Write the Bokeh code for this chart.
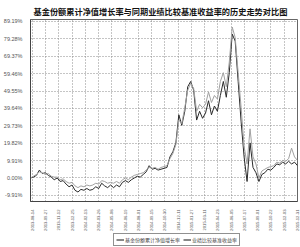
from bokeh.plotting import figure
from bokeh.layouts import column
from bokeh.models import (FixedTicker, PrintfTickFormatter, CustomJSTickFormatter,
                          Legend, LegendItem, Range1d)
from bokeh.embed import file_html
from bokeh.resources import INLINE

title = "基金份额累计净值增长率与同期业绩比较基准收益率的历史走势对比图"
fund_name = "基金份额累计净值增长率"
bench_name = "业绩比较基准收益率"

date_labels = ["2013-08-14", "2013-09-27", "2013-11-12", "2013-12-25", "2014-02-13",
               "2014-03-26", "2014-05-08", "2014-06-19", "2014-08-01", "2014-09-15",
               "2014-10-30", "2014-12-11", "2015-01-27", "2015-03-11", "2015-04-23",
               "2015-06-05", "2015-07-17", "2015-09-01", "2015-10-22", "2015-12-03",
               "2015-12-31"]

y_ticks = [-9.91, 0.0, 9.91, 19.82, 29.73, 39.64, 49.55, 59.46, 69.37, 79.28, 89.19]

fund = [0, 0.5, 1.5, 4.5, 2.5, 3, 1.5, 0.5, -1, 0, -2, -1.5, -3.5, -5, -4, -7, -8, -6.5,
        -7, -6, -7, -6.5, -5, -6, -3, -4.5, -5.5, -4, -5.5, -4, -5, -2.5, -1.5, -2.5, -1,
        0, 1, 0.5, 2, 3.5, 7, 5, 5.5, 4.5, 5, 5.5, 6, 12, 15, 20, 36, 30, 38, 52, 55, 50,
        33, 38, 34, 37, 44, 36, 41, 38, 47, 55, 46, 60, 82, 78, 55, 32, 12, -2, 20, 6, 3,
        -2, 2, 3, 5, 4.5, 6, 8, 7.5, 9, 8, 9.5, 8, 9, 7]

bench = [0, 1, 2, 3.5, 3, 2, 2.5, 1, 0.5, 0.5, -1, -0.5, -2, -3, -2.5, -4.5, -5.5, -4.5,
         -5, -4, -4.5, -4, -3, -3.5, -1.5, -2, -3, -2.5, -3, -2, -3, -1, 0, -1, 0.5, 1.5,
         2, 2.5, 3, 4.5, 6, 5.5, 6, 5, 6, 6.5, 7, 11, 14, 19, 33, 31, 40, 50, 54, 51, 38,
         42, 40, 42, 49, 43, 47, 45, 55, 60, 52, 66, 86, 80, 60, 40, 18, 8, 28, 12, 8, 0,
         4, 5, 6, 6.5, 7, 9, 8.5, 10, 9.5, 11, 17, 12, 10]

xs = list(range(len(fund)))
n = len(fund) - 1
x_ticks = [0.6 + k * (n - 0.6) / (len(date_labels) - 1) for k in range(len(date_labels))]

FUND_COLOR = "#2a2a2a"
BENCH_COLOR = "#a0a0a0"

p = figure(width=300, height=233, output_backend="svg", toolbar_location=None,
           x_range=Range1d(0, n), y_range=Range1d(-13.4, 90.3),
           min_border_left=27, min_border_right=3, min_border_top=19, min_border_bottom=30)

p.title.text = title
p.title.align = "left"
p.title.text_font = "Noto Sans CJK SC"
p.title.text_font_size = "8.2px"
p.title.text_font_style = "bold"
p.title.text_color = "#111111"
p.title.offset = 3
p.title.standoff = 5

p.line(xs, fund, line_color=FUND_COLOR, line_width=1)
p.line(xs, bench, line_color=BENCH_COLOR, line_width=1)

ya = p.yaxis[0]
ya.ticker = FixedTicker(ticks=y_ticks)
ya.formatter = PrintfTickFormatter(format="%.2f%%")
ya.major_label_text_font = "Liberation Sans"
ya.major_label_text_font_size = "5.5px"
ya.major_label_text_color = "#555555"
ya.major_tick_line_color = None
ya.minor_tick_line_color = None
ya.major_label_standoff = 2
ya.axis_line_color = "#444444"

xa = p.xaxis[0]
xa.ticker = FixedTicker(ticks=x_ticks)
xa.formatter = CustomJSTickFormatter(args=dict(labels=date_labels),
                                     code="return labels[index] || '';")
xa.major_label_orientation = 1.5708
xa.major_label_text_font = "Liberation Sans"
xa.major_label_text_font_size = "4.2px"
xa.major_label_text_color = "#555555"
xa.major_tick_line_color = None
xa.minor_tick_line_color = None
xa.major_label_standoff = 2
xa.axis_line_color = "#444444"

for g in (p.xgrid[0], p.ygrid[0]):
    g.grid_line_color = "#8a8a8a"
    g.grid_line_dash = "1 2"
    g.grid_line_width = 1
p.xgrid[0].ticker = FixedTicker(ticks=x_ticks)
p.ygrid[0].ticker = FixedTicker(ticks=y_ticks)

p.outline_line_color = "#666666"
p.outline_line_width = 1

# legend strip below the chart
q = figure(width=300, height=14, output_backend="svg", toolbar_location=None,
           x_range=Range1d(0, 1), y_range=Range1d(0, 1),
           x_axis_location=None, y_axis_location=None, min_border=0)
q.grid.visible = False
q.outline_line_color = None
r1 = q.line([-2, -1], [-2, -2], line_color="#111111", line_width=1)
r2 = q.line([-2, -1], [-2, -2], line_color="#111111", line_width=1)
legend = Legend(items=[LegendItem(label=fund_name, renderers=[r1]),
                       LegendItem(label=bench_name, renderers=[r2])],
                orientation="horizontal", location=(83, 1),
                label_text_font="Noto Sans CJK SC", label_text_font_size="5px",
                label_height=5, label_standoff=1, glyph_width=8, glyph_height=5,
                spacing=3, padding=2, margin=0,
                border_line_color="#222222", border_line_width=1)
q.add_layout(legend, "center")

layout = column(p, q, spacing=0)
open("out.html", "w").write(file_html(layout, INLINE))
